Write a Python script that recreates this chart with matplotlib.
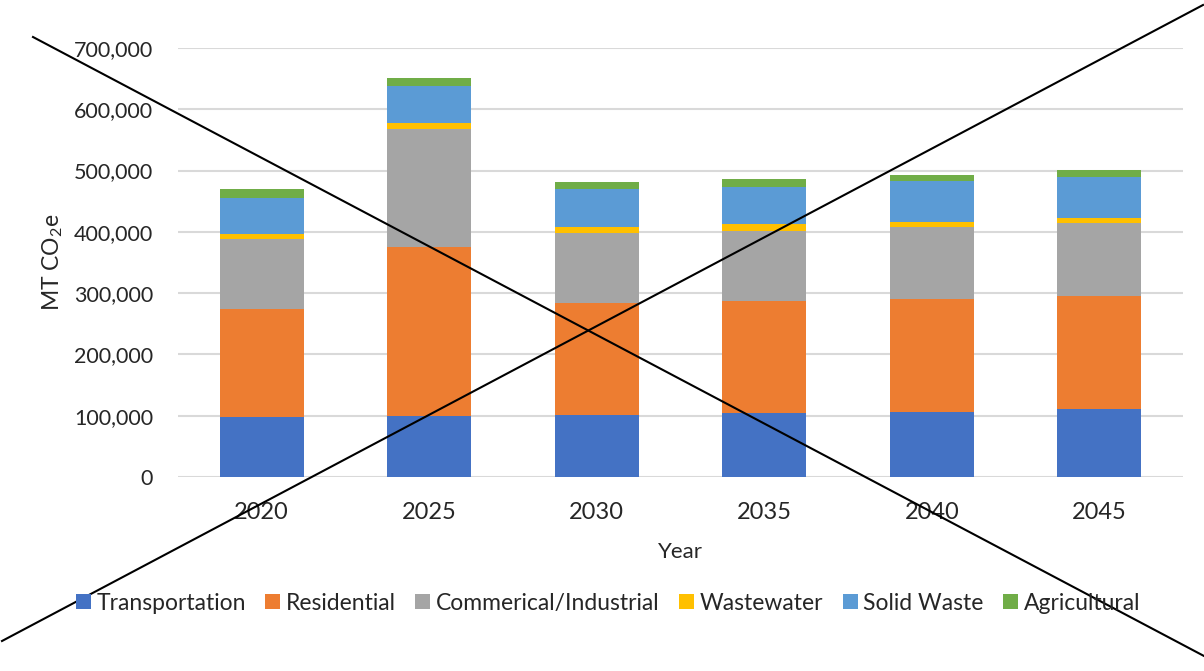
import numpy as np
import matplotlib
matplotlib.use("Agg")
import matplotlib.pyplot as plt
from matplotlib.lines import Line2D
from matplotlib.ticker import FuncFormatter

plt.rcParams['font.family'] = ['Lato', 'DejaVu Sans']
plt.rcParams['mathtext.default'] = 'regular'

# Data
years = ['2020', '2025', '2030', '2035', '2040', '2045']
sectors = ['Transportation', 'Residential', 'Commerical/Industrial',
           'Wastewater', 'Solid Waste', 'Agricultural']
transportation = [98000, 100000, 101600, 103900, 106000, 110400]
residential = [176000, 275000, 182700, 183200, 184900, 184900]
commercial = [113800, 193000, 113700, 114200, 117400, 118600]
wastewater = [8600, 9300, 9800, 11400, 8200, 8600]
solid_waste = [59200, 60800, 62000, 60900, 65900, 66400]
agricultural = [14200, 12600, 11900, 12500, 10300, 11400]
colors = ['#4472C4', '#ED7D31', '#A5A5A5', '#FFC000', '#5B9BD5', '#70AD47']

series = [transportation, residential, commercial, wastewater, solid_waste, agricultural]

fig = plt.figure(figsize=(12.04, 6.71), dpi=100)
ax = fig.add_axes([0.1478, 0.2891, 0.8348, 0.6394])

x = np.arange(len(years))
bottom = np.zeros(len(years))
for name, vals, c in zip(sectors, series, colors):
    ax.bar(x, vals, width=0.5, bottom=bottom, color=c, label=name, zorder=3)
    bottom += np.array(vals)

ax.set_xlim(-0.5, len(years) - 0.5)
ax.set_ylim(0, 700000)
ax.set_yticks(np.arange(0, 700001, 100000))
ax.yaxis.set_major_formatter(FuncFormatter(lambda v, p: f'{int(v):,}'))
ax.set_xticks(x)
ax.set_xticklabels(years)
ax.grid(axis='y', color='#d9d9d9', linewidth=1.5, zorder=0)
for s in ax.spines.values():
    s.set_visible(False)
ax.tick_params(axis='both', length=0, colors='#404040')
ax.tick_params(axis='x', pad=18, labelsize=17)
ax.tick_params(axis='y', pad=18, labelsize=15.5)
for lab in ax.get_xticklabels() + ax.get_yticklabels():
    lab.set_color('#262626')

ax.set_xlabel('Year', fontsize=16, color='#262626', labelpad=14)
ax.set_ylabel('MT CO$_2$e', fontsize=16.5, color='#262626', labelpad=6)

fig.legend(loc='center', bbox_to_anchor=(0.505, 0.101), ncol=6, frameon=False,
           fontsize=16.5, handlelength=0.65, handleheight=0.65, handletextpad=0.25,
           columnspacing=0.85, labelcolor='#262626')

# crossing lines over the whole figure
W, H = 1204, 671
for (x0, y0), (x1, y1) in [((33, 37), (1204, 656)), ((2, 641), (1203, 5))]:
    fig.add_artist(Line2D([x0 / W, x1 / W], [1 - y0 / H, 1 - y1 / H],
                          transform=fig.transFigure, color='black', linewidth=1.5))

fig.savefig('out.png', dpi=100)
